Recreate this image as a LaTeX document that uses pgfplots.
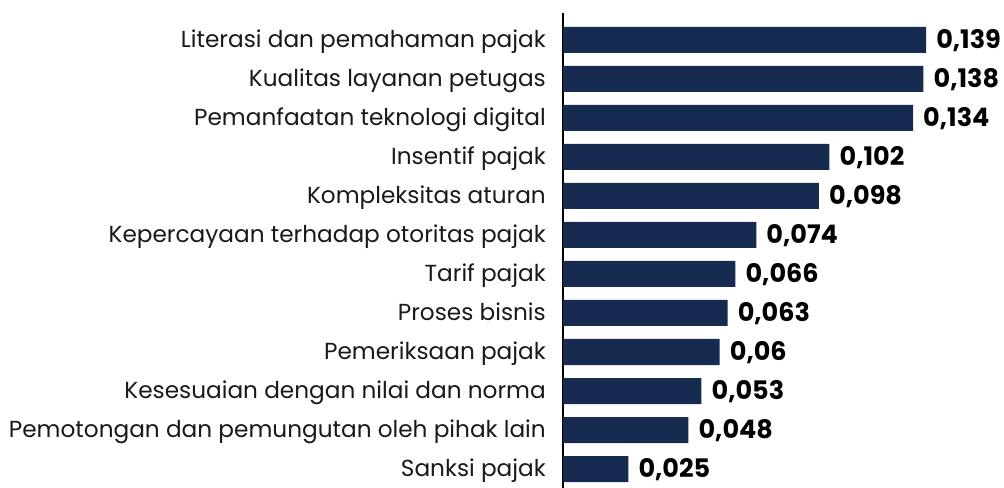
\documentclass[border=0pt]{standalone}
\usepackage{pgfplots}
\pgfplotsset{compat=1.18}
\usepackage{fontspec}
\setmainfont{Poppins}
\newfontfamily\numfont{Poppins}[UprightFont=* Bold]
\definecolor{navy}{RGB}{22,43,79}
\begin{document}
\begin{tikzpicture}[x=1bp,y=1bp]
\begin{axis}[
  at={(563bp,0bp)}, anchor=south west,
  scale only axis,
  width=400bp, height=475bp,
  xmin=0, xmax=0.15314,
  ymin=-0.692, ymax=11.487,
  y dir=reverse,
  axis x line=none,
  axis y line*=left,
  y axis line style={line width=1.8bp, black, -},
  xbar, bar width=26bp,
  ytick={0,...,11},
  major tick length=0pt,
  yticklabel style={anchor=base east, inner sep=0pt, xshift=-17bp, yshift=-7.3bp, font=\fontsize{23.2bp}{26bp}\selectfont, text=black!90},
  yticklabels={Literasi dan pemahaman pajak,Kualitas layanan petugas,Pemanfaatan teknologi digital,Insentif pajak,Kompleksitas aturan,Kepercayaan terhadap otoritas pajak,Tarif pajak,Proses bisnis,Pemeriksaan pajak,Kesesuaian dengan nilai dan norma,Pemotongan dan pemungutan oleh pihak lain,Sanksi pajak},
  nodes near coords,
  point meta=explicit symbolic,
  nodes near coords style={anchor=base west, inner sep=0pt, xshift=10bp, yshift=-8.3bp, font=\numfont\fontsize{25.5bp}{28bp}\selectfont, text=black},
  clip=false,
]
\addplot[fill=navy, draw=none] table[meta=lab] {
x y lab
0.139 0 0,139
0.138 1 0,138
0.134 2 0,134
0.102 3 0,102
0.098 4 0,098
0.074 5 0,074
0.066 6 0,066
0.063 7 0,063
0.060 8 0,06
0.053 9 0,053
0.048 10 0,048
0.025 11 0,025
};
\end{axis}
\pgfresetboundingbox
\path (0,0) rectangle (1004,488);
\end{tikzpicture}
\end{document}
